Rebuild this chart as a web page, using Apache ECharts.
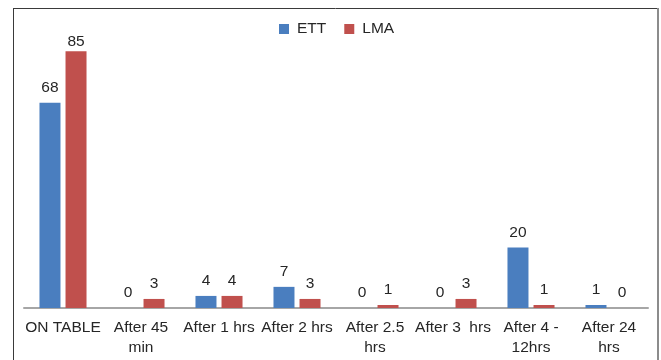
<!DOCTYPE html>
<html>
<head>
<meta charset="utf-8">
<script src="https://cdn.jsdelivr.net/npm/echarts@6/dist/echarts.min.js"></script>
<style>
html,body{margin:0;padding:0;background:#fff;}
#c{width:661px;height:360px;}
</style>
</head>
<body>
<div id="c"></div>
<script>
const categories = ['ON TABLE', 'After 45\nmin', 'After 1 hrs', 'After 2 hrs', 'After 2.5\nhrs', 'After 3  hrs', 'After 4 -\n12hrs', 'After 24\nhrs'];
const ettValues = [68, 0, 4, 7, 0, 0, 20, 1];
const lmaValues = [85, 3, 4, 3, 1, 3, 1, 0];

const chart = echarts.init(document.getElementById('c'), null, {renderer: 'canvas'});
const font = 'Arial, "Liberation Sans", sans-serif';
const labelCfg = {show: true, position: 'top', distance: 7, color: '#262626', fontSize: 15.5, fontFamily: font};

chart.setOption({
  animation: false,
  backgroundColor: '#fff',
  graphic: [
    {type: 'line', shape: {x1: 13.5, y1: 8, x2: 13.5, y2: 360}, style: {stroke: '#3a3a3a', lineWidth: 1}},
    {type: 'line', shape: {x1: 13, y1: 8.5, x2: 658, y2: 8.5}, style: {stroke: '#3a3a3a', lineWidth: 1}},
    {type: 'line', shape: {x1: 658, y1: 8, x2: 658, y2: 360}, style: {stroke: '#8c8c8c', lineWidth: 2}}
  ],
  legend: {
    top: 16,
    left: 274,
    itemWidth: 10,
    itemHeight: 10,
    itemGap: 18,
    icon: 'rect',
    textStyle: {fontSize: 15.5, fontFamily: font, color: '#262626', padding: [0, 0, 0, 3]},
    data: ['ETT', 'LMA']
  },
  grid: {left: 24, right: 13, top: 6, bottom: 52},
  xAxis: {
    type: 'category',
    data: categories,
    axisLine: {lineStyle: {color: '#a6a6a6', width: 2}},
    axisTick: {show: false},
    axisLabel: {color: '#262626', fontSize: 15.5, fontFamily: font, lineHeight: 20, margin: 10, interval: 0}
  },
  yAxis: {
    type: 'value', min: 0, max: 100, show: false,
    splitLine: {show: false}
  },
  series: [
    {
      name: 'ETT', type: 'bar', barWidth: 21, barGap: '24%',
      itemStyle: {color: '#4a7ebf'},
      label: labelCfg,
      data: ettValues
    },
    {
      name: 'LMA', type: 'bar', barWidth: 21, barGap: '24%',
      itemStyle: {color: '#c0504d'},
      label: labelCfg,
      data: lmaValues.map((v, i) => i === 0 ? {value: v, label: {distance: 2}} : v)
    }
  ]
});
</script>
</body>
</html>
